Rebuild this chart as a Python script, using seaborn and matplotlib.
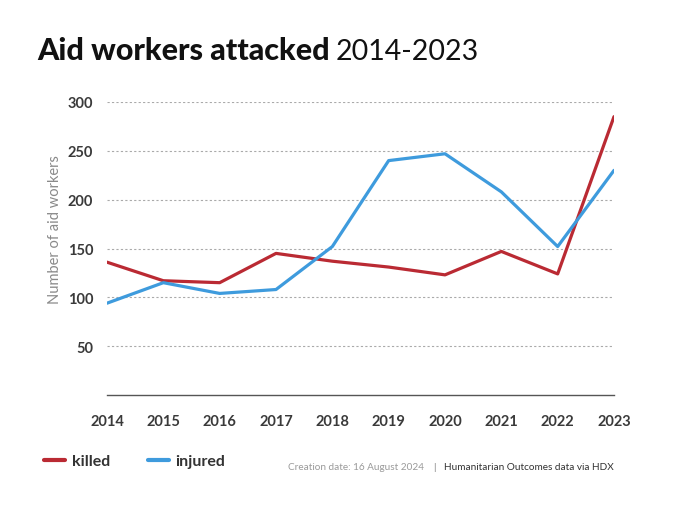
import numpy as np
import pandas as pd
import matplotlib
matplotlib.use('Agg')
import matplotlib.pyplot as plt
import seaborn as sns
from matplotlib.lines import Line2D

years = [2014, 2015, 2016, 2017, 2018, 2019, 2020, 2021, 2022, 2023]
killed = [136, 117, 115, 145, 137, 131, 123, 147, 124, 285]
injured = [94, 115, 104, 108, 152, 240, 247, 208, 152, 230]
y_ticks = [50, 100, 150, 200, 250, 300]

df = pd.DataFrame({
    'year': years * 2,
    'count': killed + injured,
    'type': ['killed'] * len(years) + ['injured'] * len(years),
})

sns.set_theme(style='white')
plt.rcParams['font.family'] = ['Lato', 'DejaVu Sans']

W, H = 680, 510
fig = plt.figure(figsize=(6.8, 5.1), dpi=100)
ax = fig.add_axes([107 / W, 1 - 396 / H, (614 - 107) / W, (396 - 103) / H])

palette = {'killed': '#BA2A33', 'injured': '#3E9BDD'}
sns.lineplot(data=df, x='year', y='count', hue='type', palette=palette,
             linewidth=2.3, ax=ax, legend=False)

ax.set_xlim(2014, 2023)
ax.set_ylim(0, 300)
ax.set_xticks(years)
ax.set_yticks(y_ticks)
ax.set_xticklabels([str(y) for y in years])
ax.tick_params(axis='both', length=0, labelsize=10.5, labelcolor='#3a3a3a')
ax.tick_params(axis='x', pad=14)
ax.tick_params(axis='y', pad=10)
for lab in ax.get_xticklabels() + ax.get_yticklabels():
    lab.set_fontweight('bold')

ax.yaxis.grid(True, linestyle=(0, (2, 2)), color='#aaaaaa', linewidth=0.8)
ax.set_axisbelow(True)
for s in ['top', 'right', 'left']:
    ax.spines[s].set_visible(False)
ax.spines['bottom'].set_color('#555555')
ax.spines['bottom'].set_linewidth(1.0)
ax.set_xlabel('')
ax.set_ylabel('')

fig.text(55 / W, 1 - 230 / H, 'Number of aid workers', rotation=90,
         ha='center', va='center', fontsize=10.5, color='#8a8a8a')

# title
t1 = fig.text(37 / W, 1 - 60 / H, 'Aid workers attacked', fontsize=22,
              fontweight='black', color='#111111', va='baseline')
fig.canvas.draw()
bb = t1.get_window_extent()
fig.text((bb.x1 + 6) / W, 1 - 60 / H, '2014-2023', fontsize=20.5,
         color='#111111', va='baseline')

# legend
handles = [Line2D([], [], color=palette['killed'], lw=3),
           Line2D([], [], color=palette['injured'], lw=3)]
leg = fig.legend(handles, ['killed', 'injured'], loc='center left',
                 bbox_to_anchor=(30 / W, 1 - 462 / H), ncol=2, frameon=False,
                 fontsize=11.5, handlelength=1.3, handletextpad=0.4,
                 columnspacing=2.4, labelcolor='#333333')
for t in leg.get_texts():
    t.set_fontweight('bold')

# footer, laid out right to left
fy = 1 - 468 / H
f1 = fig.text(614 / W, fy, 'Humanitarian Outcomes data via HDX',
              ha='right', va='center', fontsize=7.2, color='#333333')
fig.canvas.draw()
x0 = f1.get_window_extent().x0
f2 = fig.text((x0 - 9) / W, fy, '|', ha='right', va='center',
              fontsize=7.2, color='#888888')
fig.canvas.draw()
x0 = f2.get_window_extent().x0
fig.text((x0 - 9) / W, fy, 'Creation date: 16 August 2024',
         ha='right', va='center', fontsize=7.2, color='#9a9a9a')

fig.savefig('out.png', dpi=100)
